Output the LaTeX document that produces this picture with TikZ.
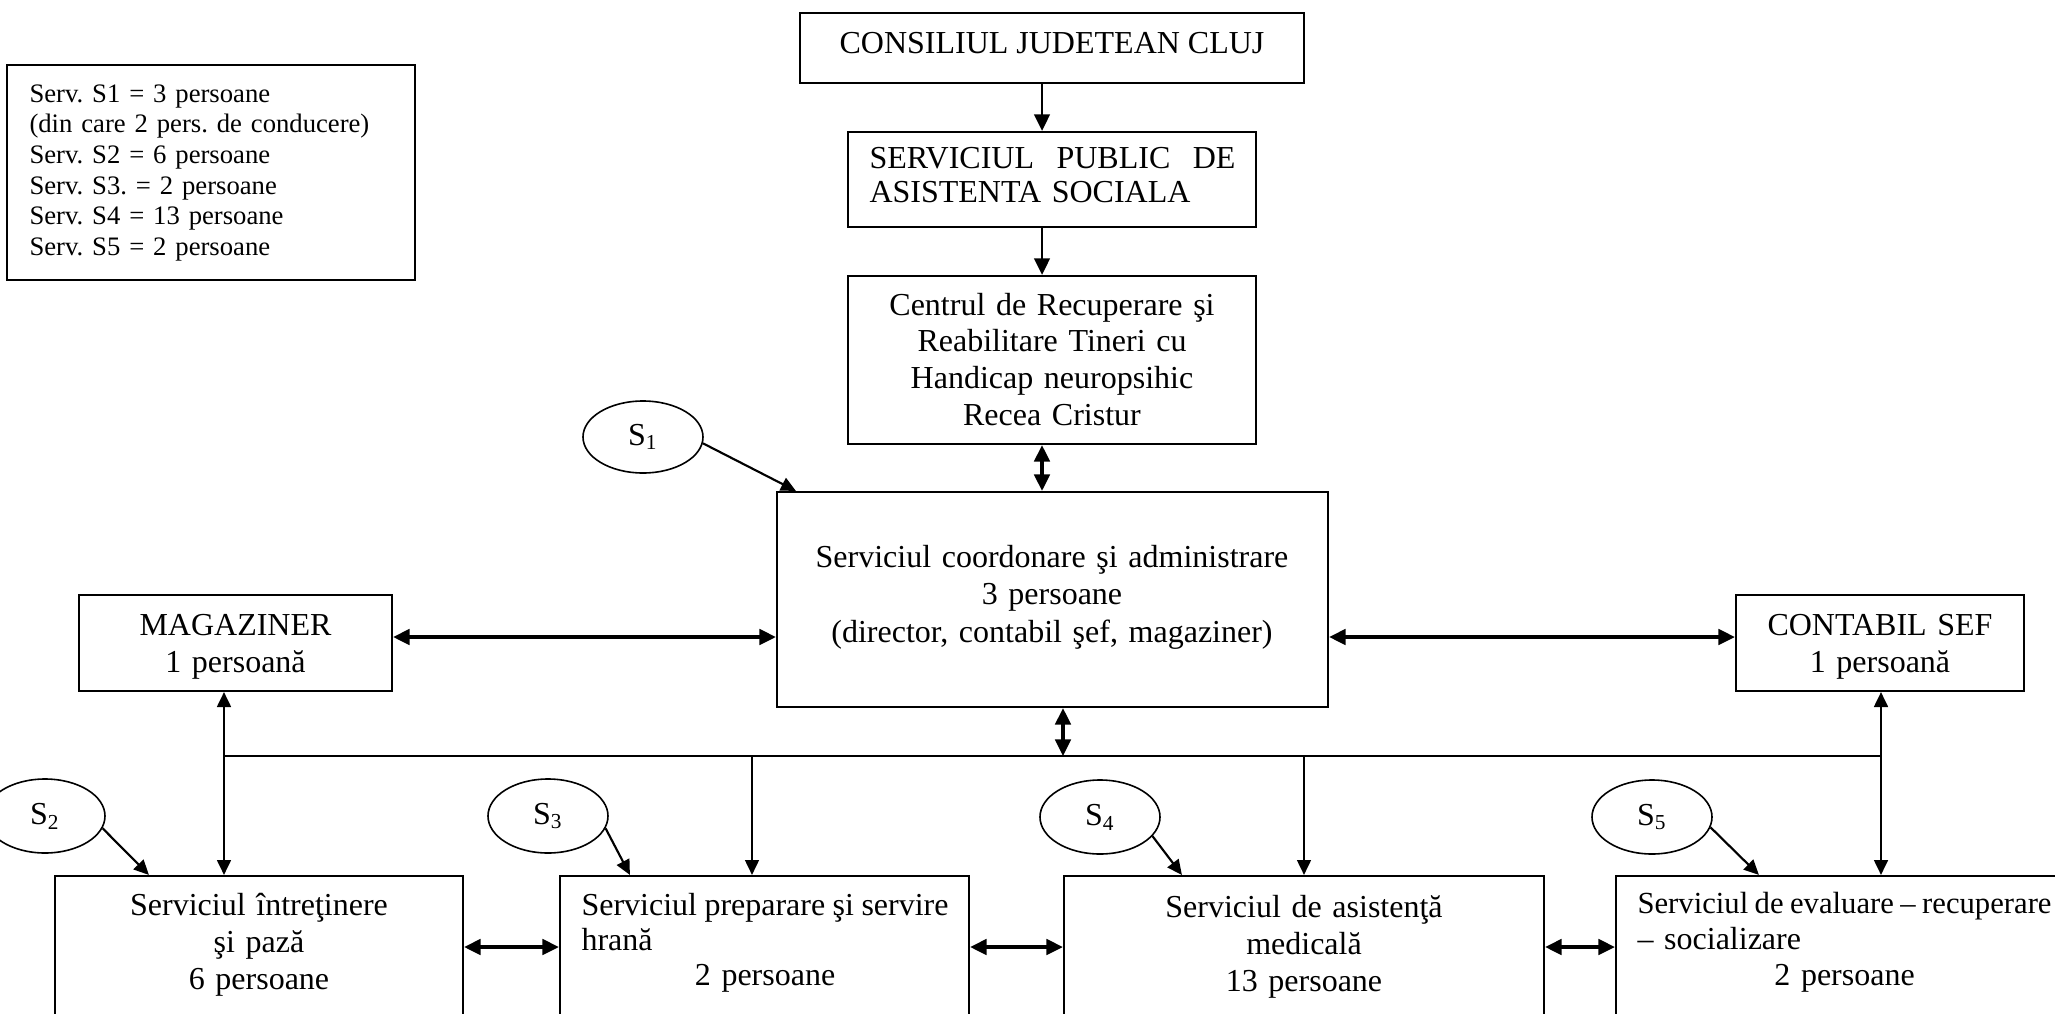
\documentclass[tikz,border=0pt]{standalone}
\usepackage{fontspec}
\setmainfont{Liberation Serif}
\frenchspacing
\usetikzlibrary{arrows.meta,calc,shapes.geometric}
\begin{document}
\begin{tikzpicture}[x=0.375pt,y=-0.375pt,
  box/.style={draw, line width=0.8pt, rectangle, inner sep=0pt},
  txt/.style={inner sep=0pt, anchor=base, align=center, font=\fontsize{12}{13.8}\selectfont},
  ltxt/.style={inner sep=0pt, anchor=base west, align=left, font=\fontsize{12}{13.8}\selectfont},
  ell/.style={draw, ellipse, line width=0.6pt, inner sep=0pt, minimum width=45pt, minimum height=27.75pt, font=\fontsize{12}{13.8}\selectfont},
  tip/.tip={Triangle[length=6.2pt,width=5.8pt]},
  stip/.tip={Triangle[length=5.6pt,width=5.2pt]},
  arr/.style={line width=1.1pt, -tip},
  darr/.style={line width=1.2pt, tip-tip},
  arrb/.style={line width=0.75pt, -stip},
  darrb/.style={line width=0.8pt, stip-stip},
  sarr/.style={line width=0.8pt, -stip},
  busline/.style={line width=0.65pt}
]
\useasboundingbox (0,0) rectangle (2055,1014);
\fill[white] (0,0) rectangle (2055,1014);
\clip (0,0) rectangle (2055,1014);

% ---------- boxes ----------
\node[box, minimum width=153pt, minimum height=80.625pt] (legend) at (211,172.5) {};
\node[box, minimum width=189pt, minimum height=26.25pt] (cons) at (1052,48) {};
\node[box, minimum width=153pt, minimum height=35.625pt] (spas) at (1052,179.5) {};
\node[box, minimum width=153pt, minimum height=63pt] (centrul) at (1052,360) {};
\node[box, minimum width=206.625pt, minimum height=80.625pt] (coord) at (1052.5,599.5) {};
\node[box, minimum width=117.375pt, minimum height=36pt] (mag) at (235.5,643) {};
\node[box, minimum width=108pt, minimum height=36pt] (cont) at (1880,643) {};
\node[box, minimum width=153pt, minimum height=84pt] (b1) at (259,988) {};
\node[box, minimum width=153.375pt, minimum height=84pt] (b2) at (764.5,988) {};
\node[box, minimum width=180pt, minimum height=84pt] (b3) at (1304,988) {};
\node[box, minimum width=181.5pt, minimum height=84pt] (b4) at (1858,988) {};

% ---------- texts ----------
\node[ltxt, text width=150pt, font=\fontsize{10}{11.5}\selectfont] (tlegend) at (29,102)
  {Serv. S1 = 3 persoane\\(din care 2 pers. de conducere)\\Serv. S2 = 6 persoane\\Serv. S3. = 2 persoane\\Serv. S4 = 13 persoane\\Serv. S5 = 2 persoane};
\node[txt] (tcons) at (1052,53) {CONSILIUL JUDETEAN CLUJ};
\node[ltxt, text width=137.25pt, font=\fontsize{12}{13.1}\selectfont] (tspas) at (869,168)
  {\hbox to 137.25pt{SERVICIUL\hfill PUBLIC\hfill DE}\\ASISTENTA SOCIALA};
\node[txt, text width=160pt, font=\fontsize{12}{13.75}\selectfont] (tcentrul) at (1052,315)
  {Centrul de Recuperare şi\\Reabilitare Tineri cu\\Handicap neuropsihic\\Recea Cristur};
\node[txt, text width=200pt, font=\fontsize{12}{14.2}\selectfont] (tcoord) at (1052,567)
  {Serviciul coordonare şi administrare\\3 persoane\\(director, contabil şef, magaziner)};
\node[txt, text width=110pt, font=\fontsize{12}{14.2}\selectfont] (tmag) at (235.5,635) {MAGAZINER\\1 persoană};
\node[txt, text width=105pt, font=\fontsize{12}{14.2}\selectfont] (tcont) at (1880,635) {CONTABIL SEF\\1 persoană};
\node[txt, text width=150pt, font=\fontsize{12}{14}\selectfont] (tb1) at (259,915)
  {Serviciul întreţinere\\şi pază\\6 persoane};
\node[ltxt, text width=137.625pt, font=\fontsize{12}{13.3}\selectfont] (tb2) at (581,915)
  {\hbox to 137.625pt{Serviciul\hfill preparare\hfill şi\hfill servire}\\hrană\\\mbox{}\hfill 2 persoane\hfill\mbox{}};
\node[txt, text width=175pt, font=\fontsize{12}{13.9}\selectfont] (tb3) at (1304,917)
  {Serviciul de asistenţă\\medicală\\13 persoane};
\node[ltxt, text width=155.25pt, font=\fontsize{12}{13.6}\selectfont] (tb4) at (1637,913)
  {{\fontsize{11.5}{13.6}\selectfont\hbox to 155.25pt{Serviciul\hfill de\hfill evaluare\hfill –\hfill recuperare}}\\– socializare\\\mbox{}\hfill 2 persoane\hfill\mbox{}};

% ---------- ellipses ----------
\node[ell, minimum height=27pt] (s1) at (643,437) {S\textsubscript{1}};
\node[ell] (s2) at (45,816) {S\textsubscript{2}};
\node[ell] (s3) at (548,816) {S\textsubscript{3}};
\node[ell] (s4) at (1100,817) {S\textsubscript{4}};
\node[ell] (s5) at (1652,817) {S\textsubscript{5}};

% ---------- helper coordinates ----------
\coordinate (xa) at (1042,0);
\coordinate (busL) at (224,756);
\coordinate (busR) at (1881,756);
\coordinate (busC) at (1063,756);
\coordinate (bus2) at (752,756);
\coordinate (bus3) at (1304,756);
\coordinate (hy) at (0,637);
\coordinate (by) at (0,947);

% ---------- connectors ----------
\draw[arr] (cons.south -| xa) -- (spas.north -| xa);
\draw[arr] (spas.south -| xa) -- (centrul.north -| xa);
\draw[darr] (centrul.south -| xa) -- (coord.north -| xa);
\draw[darr] (coord.south -| busC) -- (busC);
\draw[busline] (busL) -- (busR);
\draw[darrb] (mag.south -| busL) -- (b1.north -| busL);
\draw[darrb] (cont.south -| busR) -- (b4.north -| busR);
\draw[arrb] (bus2) -- (b2.north -| bus2);
\draw[arrb] (bus3) -- (b3.north -| bus3);
\draw[darr] (mag.east |- hy) -- (coord.west |- hy);
\draw[darr] (coord.east |- hy) -- (cont.west |- hy);
\draw[darr] (b1.east |- by) -- (b2.west |- by);
\draw[darr] (b2.east |- by) -- (b3.west |- by);
\draw[darr] (b3.east |- by) -- (b4.west |- by);
\draw[sarr] (s1.-6) -- ($(coord.north west)+(20,0)$);
\draw[sarr] (s2.-12) -- ($(b1.north west)+(95,0)$);
\draw[sarr] (s3.-12) -- ($(b2.north west)+(71,0)$);
\draw[sarr] (s4.-20) -- ($(b3.north west)+(119,0)$);
\draw[sarr] (s5.-10) -- ($(b4.north west)+(144,0)$);
\end{tikzpicture}
\end{document}
